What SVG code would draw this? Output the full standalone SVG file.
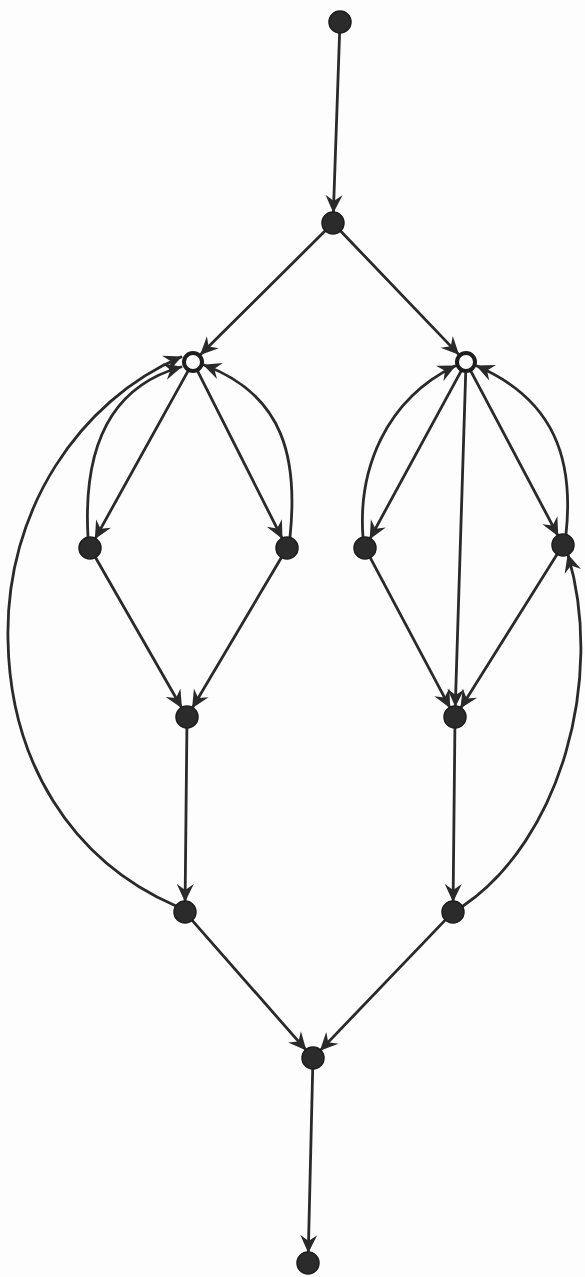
<svg xmlns="http://www.w3.org/2000/svg" width="585" height="1277" viewBox="0 0 585 1277">
<defs>
<marker id="arr" markerUnits="userSpaceOnUse" markerWidth="24" markerHeight="24" refX="0" refY="0" viewBox="-19 -12 21 24" orient="auto">
<path d="M1,0 L-17,-8.5 L-11,0 L-17,8.5 Z" fill="#2a2a2a"/>
</marker>
</defs>
<style>
.e{fill:none;stroke:#2a2a2a;stroke-width:2.8;stroke-linecap:round;marker-end:url(#arr)}
.n{fill:#2b2b2b;stroke:#1e1e1e;stroke-width:1.5}
.h{fill:#ffffff;stroke:#1e1e1e;stroke-width:4}
</style>
<rect width="585" height="1277" fill="#fdfdfd"/>
<g id="connectors">
<line class="e" x1="339.6" y1="33" x2="333.4" y2="212"/>
<line class="e" x1="325.2" y1="230.8" x2="200.8" y2="354.3"/>
<line class="e" x1="340.6" y1="231" x2="458.4" y2="354.1"/>
<line class="e" x1="187.7" y1="371.6" x2="95.3" y2="538.4"/>
<line class="e" x1="198" y1="371.8" x2="282" y2="538.2"/>
<line class="e" x1="95.5" y1="557.5" x2="181.5" y2="707.5"/>
<line class="e" x1="281.4" y1="557.5" x2="192.6" y2="707.5"/>
<line class="e" x1="186.9" y1="728" x2="185.1" y2="901"/>
<line class="e" x1="460.8" y1="371.7" x2="370.2" y2="538.3"/>
<line class="e" x1="471.1" y1="371.7" x2="557.8" y2="535.3"/>
<line class="e" x1="465.7" y1="373" x2="455.3" y2="706"/>
<line class="e" x1="370.2" y1="557.7" x2="449.8" y2="707.3"/>
<line class="e" x1="557.1" y1="554.3" x2="460.9" y2="707.7"/>
<line class="e" x1="454.9" y1="728" x2="453.1" y2="901"/>
<line class="e" x1="192.2" y1="920.3" x2="305.75" y2="1049.7"/>
<line class="e" x1="445.4" y1="919.9" x2="320.6" y2="1050.1"/>
<line class="e" x1="312.7" y1="1069" x2="308.3" y2="1252"/>
<path class="e" d="M88,537 Q80,395 181,367"/>
<path class="e" d="M176,906 C70,860 10,760 8,640 C5,510 80,400 181,357"/>
<path class="e" d="M290,537 C298,460 285,395 204,365"/>
<path class="e" d="M363,537 C358,470 385,400 455,366"/>
<path class="e" d="M566,534 C574,460 555,400 477,366"/>
<path class="e" d="M463,906 C560,840 605,680 568,555"/>
</g>
<g id="n1"><circle class="n" cx="340" cy="22" r="11"/></g>
<g id="n2"><circle class="n" cx="333" cy="223" r="11"/></g>
<g id="n3"><circle class="h" cx="193" cy="362" r="9"/></g>
<g id="n4"><circle class="h" cx="466" cy="362" r="9"/></g>
<g id="n5"><circle class="n" cx="90" cy="548" r="11"/></g>
<g id="n6"><circle class="n" cx="287" cy="548" r="11"/></g>
<g id="n7"><circle class="n" cx="365" cy="548" r="11"/></g>
<g id="n8"><circle class="n" cx="563" cy="545" r="11"/></g>
<g id="n9"><circle class="n" cx="187" cy="717" r="11"/></g>
<g id="n10"><circle class="n" cx="455" cy="717" r="11"/></g>
<g id="n11"><circle class="n" cx="185" cy="912" r="11"/></g>
<g id="n12"><circle class="n" cx="453" cy="912" r="11"/></g>
<g id="n13"><circle class="n" cx="313" cy="1058" r="11"/></g>
<g id="n14"><circle class="n" cx="308" cy="1263" r="11"/></g>
</svg>
